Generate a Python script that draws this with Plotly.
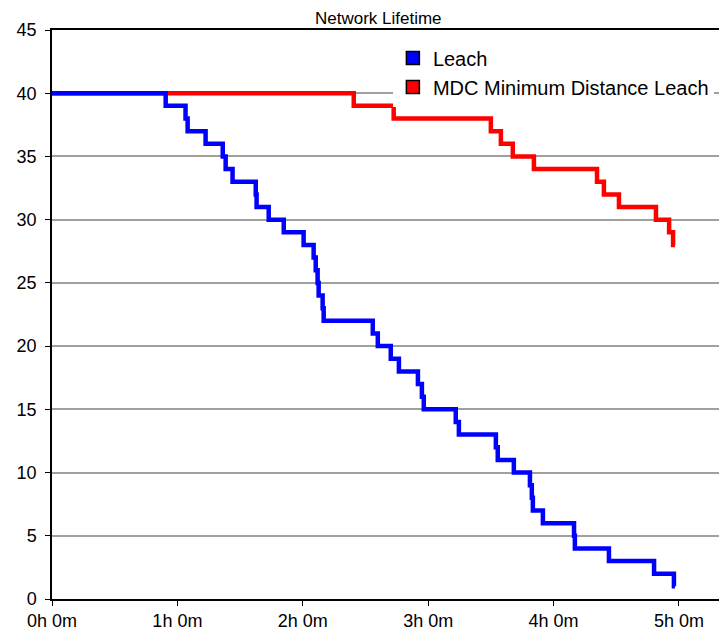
import plotly.graph_objects as go

# Leach: (minutes, nodes alive) step points
leach_t = [0, 54.4, 63.9, 64.9, 73.5, 81.7, 83.1, 86.4, 97.5, 97.9, 103.7, 110.9,
           120.4, 125.2, 126.2, 127.1, 127.6, 129.5, 130.0, 153.5, 155.9, 162.1,
           166.0, 175.1, 177.0, 177.9, 193.2, 194.7, 212.4, 213.3, 221.0, 228.7,
           229.6, 230.1, 234.9, 249.8, 250.2, 266.5, 288.1, 297.6, 298.1]
leach_n = [40, 39, 38, 37, 36, 35, 34, 33, 32, 31, 30, 29,
           28, 27, 26, 25, 24, 23, 22, 21, 20, 19,
           18, 17, 16, 15, 14, 13, 12, 11, 10, 9,
           8, 7, 6, 5, 4, 3, 2, 1, 1]

mdc_t = [0, 144.4, 163.5, 210.0, 214.8, 220.5, 230.6, 260.8, 264.1, 271.3,
         289.0, 295.3, 297.2, 298.1]
mdc_n = [40, 39, 38, 37, 36, 35, 34, 33, 32, 31, 30, 29, 28, 28]

tick_vals = [0, 60, 120, 180, 240, 300]
tick_text = ["0h 0m", "1h 0m", "2h 0m", "3h 0m", "4h 0m", "5h 0m"]
y_ticks = [0, 5, 10, 15, 20, 25, 30, 35, 40, 45]

BLUE = "#0000FF"
RED = "#FF0000"

fig = go.Figure()
fig.add_trace(go.Scatter(x=mdc_t, y=mdc_n, mode="lines", line=dict(color=RED, width=4.5, shape="hv"),
                         showlegend=False, hoverinfo="skip"))
fig.add_trace(go.Scatter(x=leach_t, y=leach_n, mode="lines", line=dict(color=BLUE, width=4.5, shape="hv"),
                         showlegend=False, hoverinfo="skip"))
fig.add_trace(go.Scatter(x=[None], y=[None], mode="markers", name="Leach",
                         marker=dict(symbol="square", size=13, color=BLUE, line=dict(color="black", width=1.5))))
fig.add_trace(go.Scatter(x=[None], y=[None], mode="markers", name="MDC Minimum Distance Leach",
                         marker=dict(symbol="square", size=13, color=RED, line=dict(color="black", width=1.5))))

fig.update_layout(
    width=719, height=623,
    margin=dict(l=44, r=0, t=22, b=26),
    paper_bgcolor="white", plot_bgcolor="white",
    font=dict(family="Liberation Sans, Arial, sans-serif", color="black", size=18),
    title=dict(text="Network Lifetime", xref="container", x=0.515, xanchor="center",
               yref="container", y=0.984, yanchor="middle", font=dict(size=17)),
    showlegend=True,
    legend=dict(x=0.505, y=0.985, xanchor="left", yanchor="top", bgcolor="white",
                font=dict(size=20), itemwidth=30, tracegroupgap=0),
    xaxis=dict(range=[0, 323], tickvals=tick_vals, ticktext=tick_text, showgrid=False,
               showline=True, linecolor="black", linewidth=1.5, mirror=True,
               ticks="outside", ticklen=5, tickcolor="black", zeroline=False,
               tickfont=dict(size=18)),
    yaxis=dict(range=[0, 45], tickvals=y_ticks, showgrid=True, gridcolor="#a0a0a0", gridwidth=1.5,
               showline=True, linecolor="black", linewidth=1.5,
               ticks="outside", ticklen=5, tickcolor="black", zeroline=False,
               ticklabelstandoff=5, tickfont=dict(size=18)),
)

fig.write_html("out.html")
